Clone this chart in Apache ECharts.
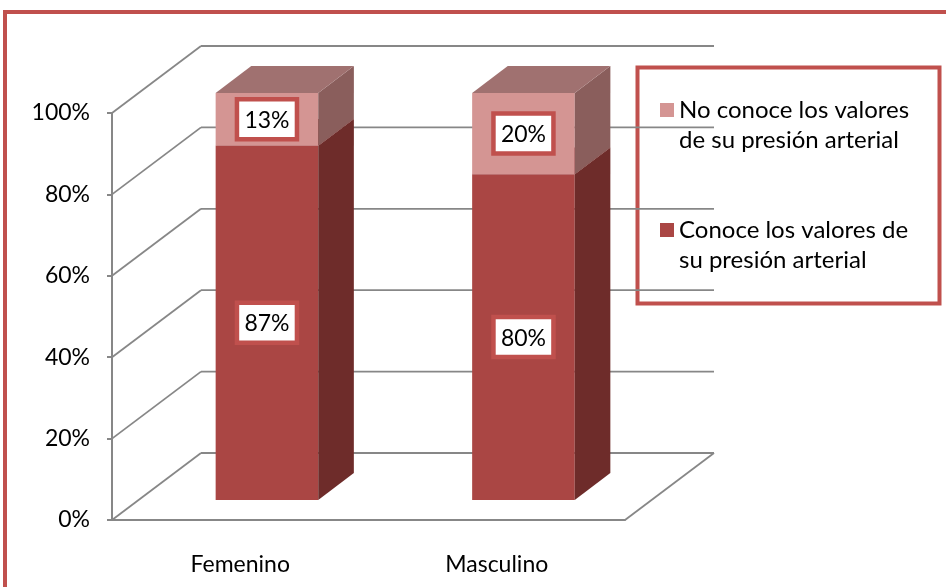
<!DOCTYPE html>
<html>
<head>
<meta charset="utf-8">
<script src="https://cdn.jsdelivr.net/npm/echarts@6/dist/echarts.min.js"></script>
<style>
  html, body { margin: 0; padding: 0; background: #fff; }
  #chart { width: 946px; height: 587px; }
</style>
</head>
<body>
<div id="chart"></div>
<script>
const categories = ['Femenino', 'Masculino'];
const conoce = [87, 80];
const noConoce = [13, 20];
const yTicks = [0, 20, 40, 60, 80, 100];
const names = ['Conoce los valores de\nsu presión arterial', 'No conoce los valores\nde su presión arterial'];

const FONT = 'Lato, "Open Sans", sans-serif';
// depth of the 3d box (pixels) and where the bars sit inside it
const DX = 89, DY = -67;
const BAR_FRONT = 0.3, BAR_BACK = 0.7, BAR_W = 0.4;
const RED = '#C0504D';
const GRID = '#878787';

function wallItem(params, api) {
  const v = api.value(0);
  const band = api.size([1, 0])[0];
  const p0 = api.coord([0, v]);
  const p1 = api.coord([categories.length - 1, v]);
  const xl = p0[0] - band / 2, xr = p1[0] + band / 2, y = p0[1];
  const st = { stroke: GRID, lineWidth: 1.8 };
  const ch = [
    { type: 'line', shape: { x1: xl, y1: y, x2: xl + DX, y2: y + DY }, style: st },
    { type: 'line', shape: { x1: xl + DX, y1: y + DY, x2: xr + DX, y2: y + DY }, style: st }
  ];
  if (v === 0) {
    ch.push({ type: 'line', shape: { x1: xr, y1: y, x2: xr + DX, y2: y + DY }, style: st });
  }
  return { type: 'group', children: ch };
}

function barItem(front, side, top) {
  return function (params, api) {
    const ci = api.value(0), lo = api.value(1), hi = api.value(2);
    const band = api.size([1, 0])[0];
    const w = band * BAR_W;
    const ox = BAR_FRONT * DX, oy = BAR_FRONT * DY;
    const dx = (BAR_BACK - BAR_FRONT) * DX, dy = (BAR_BACK - BAR_FRONT) * DY;
    const cx = api.coord([ci, lo])[0] + ox;
    const yLo = api.coord([ci, lo])[1] + oy;
    const yHi = api.coord([ci, hi])[1] + oy;
    const xl = cx - w / 2, xr = cx + w / 2;
    const ym = (yLo + yHi) / 2;
    return {
      type: 'group',
      children: [
        { type: 'rect', shape: { x: xl, y: yHi, width: w, height: yLo - yHi }, style: { fill: front } },
        { type: 'polygon', shape: { points: [[xr, yHi], [xr + dx, yHi + dy], [xr + dx, yLo + dy], [xr, yLo]] }, style: { fill: side } },
        { type: 'polygon', shape: { points: [[xl, yHi], [xr, yHi], [xr + dx, yHi + dy], [xl + dx, yHi + dy]] }, style: { fill: top } },
        { type: 'rect', shape: { x: cx - 30, y: ym - 20, width: 60, height: 40 }, style: { fill: '#fff', stroke: RED, lineWidth: 4.5 } },
        { type: 'text', x: cx, y: ym + 1, style: { text: Math.round(hi - lo) + '%', fill: '#000', font: '23px ' + FONT, align: 'center', verticalAlign: 'middle' } }
      ]
    };
  };
}

const chart = echarts.init(document.getElementById('chart'));
chart.setOption({
  animation: false,
  grid: { left: 112, top: 113, width: 513, height: 407 },
  xAxis: {
    type: 'category',
    data: categories,
    axisLine: { lineStyle: { color: GRID, width: 2 } },
    axisTick: { length: 6, lineStyle: { color: GRID, width: 2 } },
    axisLabel: { margin: 33, color: '#000', fontSize: 23, fontFamily: FONT }
  },
  yAxis: {
    type: 'value', min: 0, max: 100, interval: 20,
    axisLine: { show: true, lineStyle: { color: GRID, width: 2 } },
    axisTick: { show: true, length: 5, lineStyle: { color: GRID, width: 2 } },
    splitLine: { show: false },
    axisLabel: { formatter: '{value}%', margin: 22, color: '#000', fontSize: 23, fontFamily: FONT }
  },
  legend: {
    orient: 'vertical',
    left: 655, top: 60,
    data: [names[1], names[0]],
    // empty first line keeps the swatch level with the first text line
    formatter: name => '\n' + name,
    icon: 'rect', itemWidth: 14, itemHeight: 14, itemGap: 30,
    selectedMode: false,
    textStyle: { color: '#000', fontSize: 24, fontFamily: FONT, lineHeight: 30 }
  },
  graphic: [
    { type: 'rect', left: 635, top: 65, shape: { width: 302, height: 236 }, style: { fill: 'none', stroke: RED, lineWidth: 4 } },
    { type: 'rect', x: 5, y: 12, shape: { width: 1000, height: 1000 }, style: { fill: 'none', stroke: RED, lineWidth: 4 }, silent: true }
  ],
  series: [
    {
      type: 'custom', name: 'walls', silent: true, z: 1,
      data: yTicks.map(v => [v]),
      encode: { y: 0 },
      renderItem: wallItem
    },
    {
      type: 'custom', name: names[0], z: 2,
      itemStyle: { color: '#AA4644' },
      data: categories.map((c, i) => [i, 0, conoce[i]]),
      renderItem: barItem('#AA4644', '#6E2C2A', '#8E3A38')
    },
    {
      type: 'custom', name: names[1], z: 3,
      itemStyle: { color: '#D49593' },
      data: categories.map((c, i) => [i, conoce[i], conoce[i] + noConoce[i]]),
      renderItem: barItem('#D49593', '#8A5E5C', '#A07170')
    }
  ]
});
</script>
</body>
</html>
